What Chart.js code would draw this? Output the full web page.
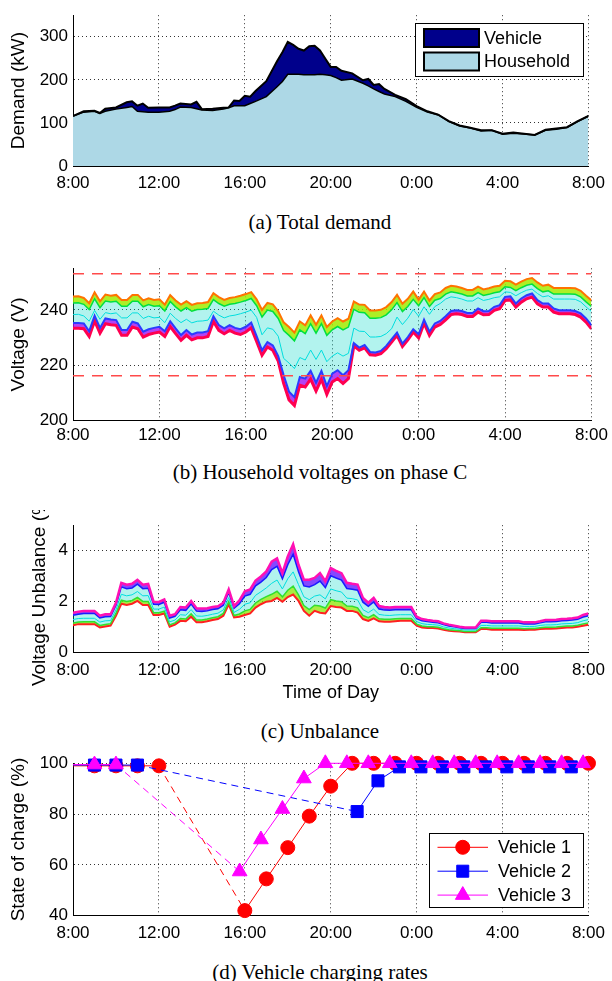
<!DOCTYPE html>
<html>
<head>
<meta charset="utf-8">
<script src="https://cdn.jsdelivr.net/npm/chart.js"></script>
<style>
  body { margin: 0; background: #fff; }
  #page { position: relative; width: 612px; height: 981px; overflow: hidden; }
  canvas { position: absolute; left: 0; }
  .cap { position: absolute; left: 0; width: 640px; text-align: center;
         font: 21px 'Liberation Serif', 'Times New Roman', serif; line-height: 24px; color: #000; }
</style>
</head>
<body>
<div id="page">
  <canvas id="demand" width="612" height="200" style="top:0px"></canvas>
  <div class="cap" style="top:210px">(a) Total demand</div>
  <canvas id="voltage" width="612" height="200" style="top:250px"></canvas>
  <div class="cap" style="top:460px">(b) Household voltages on phase C</div>
  <canvas id="unbalance" width="612" height="200" style="top:510px"></canvas>
  <div class="cap" style="top:719px">(c) Unbalance</div>
  <canvas id="charge" width="612" height="205" style="top:745px"></canvas>
  <div class="cap" style="top:960px">(d) Vehicle charging rates</div>
</div>
<script>
// x axis is hours after 8:00
const hourTicks = ['8:00', '12:00', '16:00', '20:00', '0:00', '4:00', '8:00'];

// (a) total demand, kW
const demandHours = [0,0.5,1,1.25,1.5, 2,2.5,2.75, 3,3.25,3.5, 4,4.5,4.75, 5,5.5,5.75, 6,6.5,
  7,7.25,7.5,7.75, 8,8.25,8.5, 9,9.5,9.75, 10,10.25,10.5,10.75, 11,11.25,11.5,11.75, 12,12.25,12.5,
  13,13.5,13.75, 14,14.25,14.5, 15,15.5, 16,16.5, 17,17.5, 18,18.5, 19,19.5, 20,20.5, 21,21.5,
  22,22.5, 23,23.5, 24];
const householdKW = [116,125,127,122,127, 132,136,138, 127,126,125, 125,127,131, 137,136,133, 130,129,
  132,135,140,140, 140,145,150, 161,184,196, 213,213,213,212, 212,212,213,212, 210,205,199,
  202,192,186, 179,173,167, 161,150, 136,125, 119,103, 93,88, 81,83, 74,76, 74,72,
  83,85, 89,103, 116];
const vehicleKW = [0,2,1,1,6, 4,12,12, 13,19,10, 11,9,9, 8,7,16, 2,4,
  3,1,12,11, 23,16,24, 36,59,68, 75,68,59,56, 66,67,55,37, 20,25,22,
  13,7,16, 9,17,12, 4,5, 3,2, 0,1, 1,1, 2,0, 1,2, 1,0,
  1,2, 1,1, 0];

// (b) and (c) share a quarter-hour time grid
const quarterHours = [0,0.25,0.5,0.75, 1,1.25,1.5,1.75, 2,2.25,2.5,2.75, 3,3.25,3.5,3.75,
  4,4.25,4.5,4.75, 5,5.25,5.5,5.75, 6,6.25,6.5,6.75, 7,7.25,7.5,7.75, 8,8.25,8.5,8.75,
  9,9.25,9.5,9.75, 10,10.25,10.5,10.75, 11,11.25,11.5,11.75, 12,12.25,12.5,12.75,
  13,13.25,13.5,13.75, 14,14.25,14.5,14.75, 15,15.25,15.5,15.75, 16,16.25,16.5,16.75,
  17,17.25,17.5,17.75, 18,18.25,18.5,18.75, 19,19.25,19.5,19.75, 20,20.25,20.5,20.75,
  21,21.25,21.5,21.75, 22,22.25,22.5,22.75, 23,23.25,23.5,23.75, 24];

// (b) household voltages, V (highest house, edge of upper band, middle, edge of lower band, lowest house)
const voltTop = [244.8,244.9,244.3,242.4, 246.3,243.1,245.5,245.1, 245.4,243.6,243.6,245.4,
  245.4,243.4,244.2,243.6, 243.8,241.9,245.3,243.4, 241.9,243.1,241.8,242.4, 242.5,242.8,246.0,244.6,
  243.6,244.3,244.6,245.1, 245.7,246.4,243.8,240.0, 242.5,242.0,239.5,235.5, 233.8,231.8,235.8,234.4,
  238.0,234.6,238.0,233.8, 235.8,237.0,235.8,236.8, 243.0,241.9,241.8,239.8, 239.8,240.0,241.0,242.8,
  245.4,242.2,244.0,246.6, 243.7,246.6,243.4,245.7, 246.3,247.9,248.7,248.4, 247.9,247.2,247.2,248.4,
  247.4,247.8,248.4,248.7, 250.5,250.3,249.1,250.2, 251.1,251.5,249.9,248.7, 249.1,247.9,247.9,247.9,
  247.9,247.8,246.9,245.1, 243.4];
const voltUpper = [242.5,242.6,242.0,240.1, 244.0,240.8,243.2,242.8, 243.1,241.3,241.3,243.1,
  243.1,241.1,241.9,241.3, 241.5,239.6,243.0,241.1, 239.6,240.8,239.5,240.1, 240.2,240.5,243.7,242.3,
  241.3,242.0,242.3,242.8, 243.4,244.1,241.5,237.4, 239.9,239.4,236.9,232.5, 230.8,228.8,232.8,231.4,
  235.0,231.6,235.0,230.8, 232.8,234.0,232.8,233.8, 240.2,239.1,239.0,237.0, 237.0,237.2,238.2,240.0,
  242.6,239.4,241.2,243.8, 241.5,244.4,241.2,243.5, 244.1,245.7,246.5,246.2, 245.7,245.0,245.0,246.2,
  245.2,245.6,246.2,246.5, 248.3,248.1,246.9,248.0, 248.9,249.3,247.7,246.5, 246.9,245.7,245.7,245.7,
  245.7,245.6,244.7,242.9, 241.2];
const voltMid = [238.3,238.4,237.8,235.9, 239.8,236.6,239.0,238.6, 238.9,237.1,237.1,238.9,
  238.9,236.9,237.7,237.1, 237.3,235.4,238.8,236.9, 235.4,236.6,235.3,235.9, 236.0,236.3,239.5,238.1,
  237.1,237.8,238.1,238.6, 239.2,239.9,237.3,231.0, 233.5,233.0,230.5,222.5, 220.8,218.8,222.8,221.9,
  225.5,222.1,225.5,221.3, 223.3,224.5,223.3,224.3, 233.4,232.3,232.2,230.2, 230.2,230.4,231.4,233.2,
  237.4,234.7,237.0,240.1, 237.7,241.1,238.4,241.2, 242.3,243.9,244.7,244.4, 243.9,243.2,243.2,244.4,
  243.4,243.8,244.4,244.7, 246.5,246.3,245.1,246.2, 247.1,247.5,245.9,244.7, 245.1,243.9,243.9,243.9,
  243.9,243.8,242.9,241.1, 239.4];
const voltLower = [235.3,235.3,235.1,232.3, 237.9,233.5,236.9,236.5, 236.3,232.7,232.7,235.7,
  235.1,232.1,233.0,233.5, 233.9,232.3,235.9,233.3, 230.9,232.7,231.1,231.8, 231.8,232.3,237.7,234.5,
  233.3,234.5,233.5,233.0, 233.9,235.4,230.5,225.4, 228.4,227.2,223.3,216.5, 210.5,208.5,215.8,215.2,
  218.0,213.7,218.0,212.5, 217.0,218.2,216.4,218.2, 228.0,226.4,227.3,224.8, 224.6,225.2,227.0,229.4,
  231.8,227.8,230.2,233.0, 231.2,236.5,232.1,235.1, 236.0,237.7,239.6,239.9, 239.6,238.9,238.9,240.5,
  239.5,239.6,241.1,241.7, 244.7,244.9,242.3,244.1, 245.3,245.9,243.5,242.3, 242.3,240.5,239.9,239.9,
  239.9,239.6,238.7,236.9, 234.5];
const voltBottom = [233.4,233.4,233.2,230.4, 236.0,231.6,235.0,234.6, 234.4,230.8,230.8,233.8,
  233.2,230.2,231.1,231.6, 232.0,230.4,234.0,231.4, 229.0,230.8,229.2,229.9, 229.9,230.4,235.8,232.6,
  231.4,232.6,231.6,231.1, 232.0,233.5,228.6,223.6, 226.6,225.4,221.5,213.5, 207.5,205.5,212.8,212.2,
  215.0,210.7,215.0,209.5, 214.0,215.2,213.4,215.2, 227.0,225.4,226.3,223.8, 223.6,224.2,226.0,228.4,
  230.8,226.8,229.2,232.0, 229.9,235.2,230.8,233.8, 234.7,236.4,238.3,238.6, 238.3,237.6,237.6,239.2,
  238.2,238.3,239.8,240.4, 243.4,243.6,241.0,242.8, 244.0,244.6,242.2,241.0, 241.0,239.2,238.6,238.6,
  238.6,238.3,237.4,235.6, 233.2];
const voltLimits = [253, 216.2];

// (c) voltage unbalance, %
const unbTop = [1.57,1.61,1.64,1.64, 1.64,1.45,1.51,1.51, 1.96,2.74,2.67,2.70, 2.86,2.67,2.70,2.00,
  1.99,2.09,1.45,1.51, 1.79,1.77,2.03,1.74, 1.73,1.74,1.79,1.82, 1.96,2.48,1.83,2.05, 2.41,2.48,2.83,2.99,
  3.19,3.57,3.70,3.12, 3.77,4.25,3.45,2.86, 2.86,2.93,3.12,2.80, 3.32,3.21,3.12,2.74, 2.70,2.67,2.15,1.96,
  2.15,1.83,1.79,1.77, 1.79,1.79,1.79,1.79, 1.41,1.32,1.28,1.25, 1.23,1.15,1.10,1.06, 1.02,0.99,0.99,0.99,
  1.25,1.25,1.23,1.23, 1.23,1.23,1.23,1.23, 1.19,1.19,1.19,1.23, 1.28,1.28,1.29,1.32, 1.33,1.35,1.38,1.48,
  1.54];
const unbUpper = [1.47,1.51,1.54,1.54, 1.54,1.36,1.41,1.42, 1.86,2.58,2.51,2.54, 2.69,2.51,2.53,1.90,
  1.89,1.98,1.36,1.43, 1.68,1.66,1.91,1.63, 1.62,1.64,1.69,1.72, 1.86,2.36,1.74,1.92, 2.22,2.29,2.62,2.77,
  2.95,3.26,3.39,2.90, 3.45,3.86,3.17,2.62, 2.58,2.67,2.81,2.55, 3.02,2.93,2.85,2.52, 2.49,2.45,1.98,1.82,
  1.99,1.71,1.67,1.66, 1.68,1.68,1.68,1.68, 1.34,1.25,1.22,1.19, 1.17,1.10,1.05,1.02, 0.98,0.95,0.95,0.95,
  1.19,1.19,1.16,1.16, 1.16,1.16,1.16,1.16, 1.13,1.13,1.13,1.17, 1.21,1.21,1.22,1.25, 1.26,1.28,1.31,1.40,
  1.45];
const unbMid = [1.30,1.34,1.35,1.35, 1.35,1.20,1.25,1.26, 1.68,2.29,2.23,2.27, 2.40,2.23,2.24,1.71,
  1.71,1.79,1.21,1.28, 1.49,1.47,1.69,1.44, 1.43,1.46,1.51,1.55, 1.68,2.16,1.58,1.70, 1.90,1.96,2.25,2.39,
  2.54,2.72,2.85,2.50, 2.90,3.17,2.67,2.19, 2.08,2.22,2.27,2.11, 2.50,2.43,2.38,2.14, 2.12,2.07,1.69,1.57,
  1.71,1.50,1.47,1.46, 1.48,1.49,1.49,1.49, 1.22,1.14,1.11,1.10, 1.08,1.01,0.97,0.94, 0.92,0.89,0.89,0.89,
  1.07,1.07,1.05,1.05, 1.05,1.05,1.05,1.05, 1.03,1.03,1.03,1.07, 1.09,1.09,1.10,1.13, 1.14,1.15,1.18,1.25,
  1.30];
const unbLower = [1.16,1.20,1.21,1.21, 1.21,1.07,1.11,1.14, 1.54,2.06,2.01,2.05, 2.17,2.01,2.01,1.57,
  1.57,1.63,1.09,1.17, 1.34,1.32,1.52,1.28, 1.28,1.32,1.37,1.41, 1.54,2.00,1.46,1.52, 1.64,1.70,1.95,2.09,
  2.20,2.29,2.41,2.19, 2.45,2.61,2.27,1.85, 1.69,1.86,1.83,1.75, 2.08,2.03,2.00,1.83, 1.82,1.76,1.46,1.37,
  1.49,1.33,1.31,1.31, 1.33,1.34,1.34,1.34, 1.12,1.05,1.02,1.02, 1.00,0.94,0.90,0.88, 0.86,0.83,0.83,0.83,
  0.98,0.98,0.96,0.96, 0.96,0.96,0.96,0.96, 0.94,0.95,0.95,0.98, 1.00,1.00,1.01,1.03, 1.05,1.05,1.08,1.13,
  1.17];
const unbBottom = [1.08,1.12,1.12,1.12, 1.12,0.99,1.03,1.06, 1.45,1.92,1.87,1.92, 2.03,1.87,1.87,1.48,
  1.48,1.54,1.02,1.10, 1.25,1.23,1.41,1.19, 1.19,1.23,1.28,1.32, 1.45,1.90,1.38,1.41, 1.48,1.54,1.77,1.90,
  2.00,2.03,2.15,2.00, 2.18,2.28,2.03,1.64, 1.45,1.64,1.57,1.54, 1.83,1.79,1.77,1.64, 1.64,1.57,1.32,1.25,
  1.35,1.23,1.21,1.21, 1.23,1.25,1.25,1.25, 1.06,0.99,0.97,0.97, 0.95,0.90,0.86,0.84, 0.83,0.80,0.80,0.80,
  0.93,0.93,0.90,0.90, 0.90,0.90,0.90,0.90, 0.89,0.90,0.90,0.93, 0.94,0.94,0.95,0.97, 0.99,0.99,1.02,1.06,
  1.10];

// (d) state of charge, %
const v1Hours = [0,1,2,3,4,8,9,10,11,12,13,14,15,16,17,18,19,20,21,22,23,24];
const v1Soc = [99,99,99,99,99,42,54.5,66.8,79.2,91,100,100,100,100,100,100,100,100,100,100,100,100];
const v2Hours = [0,1,2,3,13.23,14.2,15.2,16.2,17.2,18.2,19.2,20.2,21.2,22.2,23.2];
const v2Soc = [99.3,99.3,99.3,99.3,81,93.1,98.6,98.6,98.6,98.6,98.6,98.6,98.6,98.6,98.6];
const v3Hours = [0,1,2,7.76,8.75,9.75,10.75,11.75,12.75,13.75,14.75,15.75,16.75,17.75,18.75,19.75,20.75,21.75,22.75,23.75];
const v3Soc = [99.5,99.5,99.5,57.4,70,82,94,100,100,100,100,100,100,100,100,100,100,100,100,100];

const pts = (xs, ys) => xs.map((x, i) => ({x: x, y: ys[i]}));
const flat = (v) => [{x: 0, y: v}, {x: 24, y: v}];

Chart.defaults.font.family = "'Liberation Sans', Arial, Helvetica, sans-serif";
Chart.defaults.font.size = 17;
Chart.defaults.color = '#000';
Chart.defaults.animation = false;

// rotated y-axis title that may run past the canvas edge, like the clipped one in (c)
const sideTitle = {
  id: 'sideTitle',
  afterDraw(chart, args, o) {
    if (!o.text) return;
    const ctx = chart.ctx, area = chart.chartArea;
    ctx.save();
    ctx.translate(o.x, (area.top + area.bottom) / 2);
    ctx.rotate(-Math.PI / 2);
    ctx.font = o.font;
    ctx.fillStyle = '#000';
    ctx.textAlign = 'center';
    ctx.textBaseline = 'middle';
    ctx.fillText(o.text, 0, 0);
    ctx.restore();
  }
};

// boxed legend inside the plot, matlab style
const boxLegend = {
  id: 'boxLegend',
  afterDraw(chart, args, o) {
    if (!o.items) return;
    const ctx = chart.ctx;
    ctx.save();
    ctx.fillStyle = '#fff';
    ctx.fillRect(o.x, o.y, o.w, o.h);
    ctx.strokeStyle = '#000';
    ctx.lineWidth = 1;
    ctx.strokeRect(o.x + 0.5, o.y + 0.5, o.w, o.h);
    ctx.font = o.font;
    ctx.textAlign = 'left';
    ctx.textBaseline = 'middle';
    o.items.forEach((idx, i) => {
      const ds = chart.data.datasets[idx];
      const cy = o.y + o.first + i * o.row;
      const sx = o.x + o.sx;
      if (o.kind === 'area') {
        ctx.fillStyle = ds.backgroundColor;
        ctx.fillRect(sx, cy - o.sh / 2, o.sw, o.sh);
        ctx.lineWidth = 2;
        ctx.strokeStyle = '#000';
        ctx.strokeRect(sx, cy - o.sh / 2, o.sw, o.sh);
      } else {
        ctx.strokeStyle = ds.borderColor;
        ctx.fillStyle = ds.backgroundColor;
        ctx.lineWidth = 1;
        ctx.beginPath();
        ctx.moveTo(sx, cy);
        ctx.lineTo(sx + o.sw, cy);
        ctx.stroke();
        Chart.helpers.drawPoint(ctx, {pointStyle: ds.pointStyle, radius: o.radii[i], borderWidth: 1, rotation: 0},
          sx + o.sw / 2, cy);
      }
      ctx.fillStyle = '#000';
      ctx.fillText(ds.label, o.x + o.tx, cy + 1);
    });
    ctx.restore();
  }
};
Chart.register(sideTitle, boxLegend);

const gridColor = 'rgba(0,0,0,0.8)';

function timeAxis(pad, height, title) {
  return {
    type: 'linear', min: 0, max: 24,
    ticks: { stepSize: 4, padding: pad, maxRotation: 0, autoSkip: false,
             callback: v => hourTicks[v / 4] },
    grid: { color: gridColor, lineWidth: 1, drawTicks: false },
    border: { display: true, color: '#000', width: 1, dash: [1, 3] },
    title: title ? { display: true, text: title, font: { size: 18 }, padding: { top: 0, bottom: 0 } }
                 : { display: false },
    afterFit: s => { s.height = height; }
  };
}

function valueAxis(min, max, step, stacked) {
  return {
    type: 'linear', min: min, max: max, stacked: !!stacked,
    ticks: { stepSize: step, includeBounds: false, padding: 5 },
    grid: { color: gridColor, lineWidth: 1, drawTicks: false },
    border: { display: true, color: '#000', width: 1, dash: [1, 3] },
    afterFit: s => { s.width = 73; }
  };
}

function baseOptions(padTop, padBottom, xAxis, yAxis, plugins) {
  return {
    responsive: false,
    animation: false,
    layout: { padding: { top: padTop, bottom: padBottom, left: 0, right: 20 } },
    elements: { point: { radius: 0 }, line: { tension: 0 } },
    scales: { x: xAxis, y: yAxis },
    plugins: Object.assign({
      legend: { display: false },
      tooltip: { enabled: false },
      filler: { drawTime: 'beforeDatasetsDraw' }
    }, plugins)
  };
}

// (a)
new Chart(document.getElementById('demand'), {
  type: 'line',
  data: {
    datasets: [
      { label: 'Household', data: pts(demandHours, householdKW), fill: 'origin',
        backgroundColor: '#add8e6', borderColor: '#000', borderWidth: 1.5 },
      { label: 'Vehicle', data: pts(demandHours, vehicleKW), fill: '-1',
        backgroundColor: '#00008b', borderColor: '#000', borderWidth: 2 }
    ]
  },
  options: baseOptions(13, 0, timeAxis(7, 34), valueAxis(0, 350, 100, true), {
    sideTitle: { text: 'Demand (kW)', x: 19, font: "19px 'Liberation Sans', Arial, sans-serif" },
    boxLegend: { kind: 'area', items: [1, 0], x: 415, y: 23, w: 168, h: 53, first: 15, row: 23.5,
                 sx: 9, sw: 55, sh: 18, tx: 69, font: "18px 'Liberation Sans', Arial, sans-serif" }
  })
});

// (b)
new Chart(document.getElementById('voltage'), {
  type: 'line',
  data: {
    datasets: [
      { data: flat(voltLimits[0]), borderColor: '#ff4a4a', borderWidth: 1.5, borderDash: [11, 8], fill: false },
      { data: flat(voltLimits[1]), borderColor: '#ff4a4a', borderWidth: 1.5, borderDash: [11, 8], fill: false },
      { data: pts(quarterHours, voltTop), borderColor: '#ff7300', borderWidth: 2,
        fill: { target: 3 }, backgroundColor: 'rgba(160,235,0,0.85)' },
      { data: pts(quarterHours, voltUpper), borderColor: '#00e040', borderWidth: 1.5,
        fill: { target: 5 }, backgroundColor: 'rgba(0,215,200,0.3)' },
      { data: pts(quarterHours, voltMid), borderColor: '#00dede', borderWidth: 1, fill: false },
      { data: pts(quarterHours, voltLower), borderColor: '#2a3cff', borderWidth: 2,
        fill: { target: 6 }, backgroundColor: 'rgba(160,20,240,0.8)' },
      { data: pts(quarterHours, voltBottom), borderColor: '#ff0050', borderWidth: 3, fill: false }
    ]
  },
  options: baseOptions(18.3, 0, timeAxis(4, 29.3), valueAxis(200, 255, 20), {
    sideTitle: { text: 'Voltage (V)', x: 19, font: "19px 'Liberation Sans', Arial, sans-serif" }
  })
});

// (c)
new Chart(document.getElementById('unbalance'), {
  type: 'line',
  data: {
    datasets: [
      { data: pts(quarterHours, unbTop), borderColor: '#ff10b4', borderWidth: 2.5,
        fill: { target: 1 }, backgroundColor: 'rgba(110,40,255,0.85)' },
      { data: pts(quarterHours, unbUpper), borderColor: '#1a1aff', borderWidth: 1.5,
        fill: { target: 3 }, backgroundColor: 'rgba(0,215,200,0.3)' },
      { data: pts(quarterHours, unbMid), borderColor: '#00dede', borderWidth: 1, fill: false },
      { data: pts(quarterHours, unbLower), borderColor: '#30e030', borderWidth: 1.5,
        fill: { target: 4 }, backgroundColor: 'rgba(140,230,0,0.75)' },
      { data: pts(quarterHours, unbBottom), borderColor: '#ff2020', borderWidth: 2, fill: false }
    ]
  },
  options: baseOptions(12.7, 6.3, timeAxis(7, 51, 'Time of Day'), valueAxis(0, 5, 2), {
    sideTitle: { text: 'Voltage Unbalance (%)', x: 40, font: "19px 'Liberation Sans', Arial, sans-serif" }
  })
});

// (d)
const gapDash = c => (c.p1.parsed.x - c.p0.parsed.x > 1.5 ? [7, 5] : undefined);
const markerSize = r => (c => (c.dataIndex === 0 ? 0 : r));
new Chart(document.getElementById('charge'), {
  type: 'line',
  data: {
    datasets: [
      { label: 'Vehicle 1', data: pts(v1Hours, v1Soc), order: 3, clip: false,
        borderColor: '#ff0000', backgroundColor: '#ff0000', borderWidth: 1,
        pointStyle: 'circle', pointRadius: markerSize(7), pointBorderWidth: 1,
        segment: { borderDash: gapDash }, fill: false },
      { label: 'Vehicle 2', data: pts(v2Hours, v2Soc), order: 2, clip: false,
        borderColor: '#0000ff', backgroundColor: '#0000ff', borderWidth: 1,
        pointStyle: 'rect', pointRadius: markerSize(8.5), pointBorderWidth: 1,
        segment: { borderDash: gapDash }, fill: false },
      { label: 'Vehicle 3', data: pts(v3Hours, v3Soc), order: 1, clip: false,
        borderColor: '#ff00ff', backgroundColor: '#ff00ff', borderWidth: 1,
        pointStyle: 'triangle', pointRadius: markerSize(8.5), pointBorderWidth: 1,
        segment: { borderDash: gapDash }, fill: false }
    ]
  },
  options: baseOptions(18.3, 0, timeAxis(7, 34.3), valueAxis(40, 100, 20), {
    sideTitle: { text: 'State of charge (%)', x: 19, font: "19px 'Liberation Sans', Arial, sans-serif" },
    boxLegend: { kind: 'line', items: [0, 1, 2], radii: [7, 8.5, 8.5], x: 429, y: 88, w: 154, h: 74,
                 first: 14.3, row: 23.9, sx: 8.5, sw: 50.5, tx: 69,
                 font: "18px 'Liberation Sans', Arial, sans-serif" }
  })
});
</script>
</body>
</html>
